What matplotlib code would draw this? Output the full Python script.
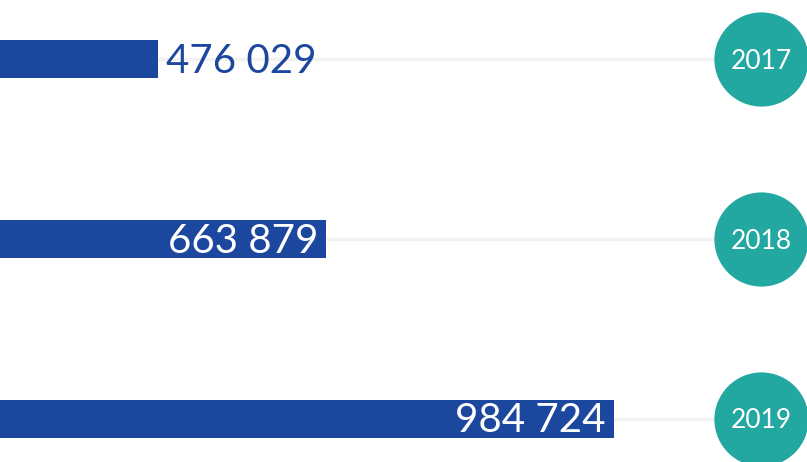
import matplotlib.pyplot as plt
from matplotlib import transforms

years = ['2017', '2018', '2019']
values = [476029, 663879, 984724]

bar_color = '#1c479e'
circle_color = '#22a7a1'
font = 'Lato'

fig = plt.figure(figsize=(8.07, 4.62), dpi=100)
ax = fig.add_axes([0, 0, 1, 1])

pos = list(range(len(years)))
x_min, x_max = 300000, 1200000
circle_x = 1149000

# faint guide lines from bar end to the year bubble
ax.hlines(pos, values, circle_x, color='#f2f2f2', lw=2.5, zorder=1)
ax.barh(pos, values, height=0.21, color=bar_color, zorder=2)
ax.scatter([circle_x] * len(pos), pos, s=4600, color=circle_color, zorder=3, linewidths=0)

px_per_unit = 807 / (x_max - x_min)
for i, (yr, v) in enumerate(zip(years, values)):
    bar_px = (v - x_min) * px_per_unit
    label = f'{v:,}'.replace(',', ' ')
    if bar_px > 200:
        off = transforms.offset_copy(ax.transData, fig=fig, x=-8, y=-2, units='dots')
        ax.text(v, i, label, transform=off, ha='right', va='center',
                color='white', fontsize=29, family=font, zorder=4)
    else:
        off = transforms.offset_copy(ax.transData, fig=fig, x=8, y=-2, units='dots')
        ax.text(v, i, label, transform=off, ha='left', va='center',
                color=bar_color, fontsize=29, family=font, zorder=4)
    off = transforms.offset_copy(ax.transData, fig=fig, x=0, y=-2, units='dots')
    ax.text(circle_x, i, yr, transform=off, ha='center', va='center', color='white',
            fontsize=19, family=font, zorder=5)

ax.set_xlim(x_min, x_max)
ax.set_ylim(2.239, -0.328)
ax.axis('off')

fig.savefig('out.png', dpi=100, facecolor='white')
